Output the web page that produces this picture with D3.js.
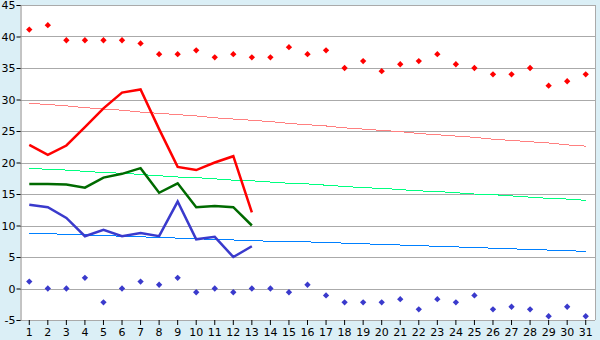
<!DOCTYPE html>
<html>
<head>
<meta charset="utf-8">
<script src="https://cdn.jsdelivr.net/npm/d3@7"></script>
<style>
  body { margin: 0; background: #dbeff6; }
  text { font-family: "DejaVu Sans", Verdana, sans-serif; font-size: 11px; fill: #000; }
</style>
</head>
<body>
<div id="chart-area"></div>
<script>
// days of the month
const days = d3.range(1, 32);

// record highs / lows (diamond markers)
const recordMax = [41.1, 41.8, 39.4, 39.4, 39.4, 39.4, 38.9, 37.2, 37.2, 37.8, 36.7, 37.2, 36.7, 36.7, 38.3, 37.2,
  37.8, 35.0, 36.1, 34.5, 35.6, 36.1, 37.2, 35.6, 35.0, 34.0, 34.0, 35.0, 32.2, 32.9, 34.0];
const recordMin = [1.1, 0.0, 0.0, 1.7, -2.2, 0.0, 1.1, 0.6, 1.7, -0.6, 0.0, -0.6, 0.0, 0.0, -0.6, 0.6,
  -1.1, -2.2, -2.2, -2.2, -1.7, -3.3, -1.7, -2.2, -1.1, -3.3, -2.9, -3.3, -4.4, -2.9, -4.4];

// observed values (first 13 days)
const obsMax = [22.8, 21.2, 22.7, 25.6, 28.6, 31.1, 31.6, 25.3, 19.3, 18.8, 20.0, 21.0, 12.1];
const obsMean = [16.6, 16.6, 16.5, 16.0, 17.6, 18.2, 19.1, 15.2, 16.7, 12.9, 13.1, 12.9, 10.0];
const obsMin = [13.3, 12.9, 11.2, 8.3, 9.3, 8.3, 8.8, 8.3, 13.8, 7.8, 8.2, 5.0, 6.7];

// normals
const normMax = [29.4, 29.2, 29.0, 28.7, 28.5, 28.3, 28.0, 27.8, 27.6, 27.4, 27.1, 26.9, 26.7, 26.5, 26.2, 26.0,
  25.8, 25.5, 25.3, 25.1, 24.9, 24.6, 24.4, 24.2, 24.0, 23.7, 23.5, 23.3, 23.1, 22.8, 22.6];
const normMean = [19.1, 18.9, 18.8, 18.6, 18.4, 18.3, 18.1, 17.9, 17.7, 17.6, 17.4, 17.2, 17.1, 16.9, 16.7, 16.6,
  16.4, 16.2, 16.0, 15.9, 15.7, 15.5, 15.4, 15.2, 15.0, 14.9, 14.7, 14.5, 14.3, 14.2, 14.0];
const normMin = [8.8, 8.7, 8.6, 8.5, 8.4, 8.3, 8.2, 8.1, 8.0, 7.9, 7.8, 7.7, 7.6, 7.5, 7.4, 7.4,
  7.3, 7.2, 7.1, 7.0, 6.9, 6.8, 6.7, 6.6, 6.5, 6.4, 6.3, 6.2, 6.1, 6.0, 5.9];

const yTicks = [-5, 0, 5, 10, 15, 20, 25, 30, 35, 40, 45];

const margins = { top: 5, right: 5, bottom: 20, left: 20 };
const width = 600 - margins.left - margins.right;
const height = 340 - margins.top - margins.bottom;

const svg = d3.select('#chart-area')
  .append('svg')
  .attr('width', 600)
  .attr('height', 340)
  .style('display', 'block');

const g = svg.append('g')
  .attr('transform', 'translate(' + margins.left + ', ' + margins.top + ')');

const x = d3.scaleBand()
  .domain(days)
  .range([0, width]);

const y = d3.scaleLinear()
  .domain([-5, 45])
  .range([height, 0]);

const cx = (d) => x(d) + x.bandwidth() / 2;

g.append('rect')
  .attr('width', width)
  .attr('height', height)
  .attr('fill', '#fff');

// gridlines
g.append('g')
  .selectAll('line')
  .data(yTicks)
  .enter()
  .append('line')
  .attr('x1', 0)
  .attr('x2', width)
  .attr('y1', (d) => Math.round(y(d)) + 0.5)
  .attr('y2', (d) => Math.round(y(d)) + 0.5)
  .attr('stroke', '#aaa');

// frame
g.append('line')
  .attr('x1', width + 0.5).attr('x2', width + 0.5)
  .attr('y1', 0).attr('y2', height)
  .attr('stroke', '#aaa');

// axes
const yAxis = d3.axisLeft(y).tickValues(yTicks).tickSize(4).tickPadding(1)
  .tickFormat((d) => String(d));
g.append('g')
  .attr('transform', 'translate(0.5, 0)')
  .call(yAxis)
  .call((a) => a.select('.domain').attr('stroke', '#888'))
  .call((a) => a.selectAll('.tick line').attr('stroke', '#000'));

const xAxis = d3.axisBottom(x).tickSize(5).tickPadding(3);
g.append('g')
  .attr('transform', 'translate(0, ' + height + ')')
  .call(xAxis)
  .call((a) => a.select('.domain').remove())
  .call((a) => a.selectAll('.tick line').attr('stroke', '#000'));

// normal lines
const line = d3.line()
  .x((d, i) => cx(days[i]))
  .y((d) => y(d));

[[normMax, '#ff8080'], [normMean, '#00ff80'], [normMin, '#0080ff']].forEach(([data, color]) => {
  g.append('path')
    .datum(data)
    .attr('d', line)
    .attr('fill', 'none')
    .attr('stroke', color)
    .attr('stroke-width', 1)
    .attr('shape-rendering', 'crispEdges');
});

// observed lines
[[obsMax, '#ff0000'], [obsMean, '#006a00'], [obsMin, '#3a3acc']].forEach(([data, color]) => {
  g.append('path')
    .datum(data)
    .attr('d', line)
    .attr('fill', 'none')
    .attr('stroke', color)
    .attr('stroke-width', 2.5);
});

// record markers
const diamond = d3.symbol().type(d3.symbolSquare).size(20);

[[recordMax, '#ff0000'], [recordMin, '#3a3acc']].forEach(([data, color]) => {
  g.append('g')
    .selectAll('path')
    .data(data)
    .enter()
    .append('path')
    .attr('d', diamond)
    .attr('transform', (d, i) => 'translate(' + cx(days[i]) + ', ' + y(d) + ') rotate(45)')
    .attr('fill', color);
});
</script>
</body>
</html>
